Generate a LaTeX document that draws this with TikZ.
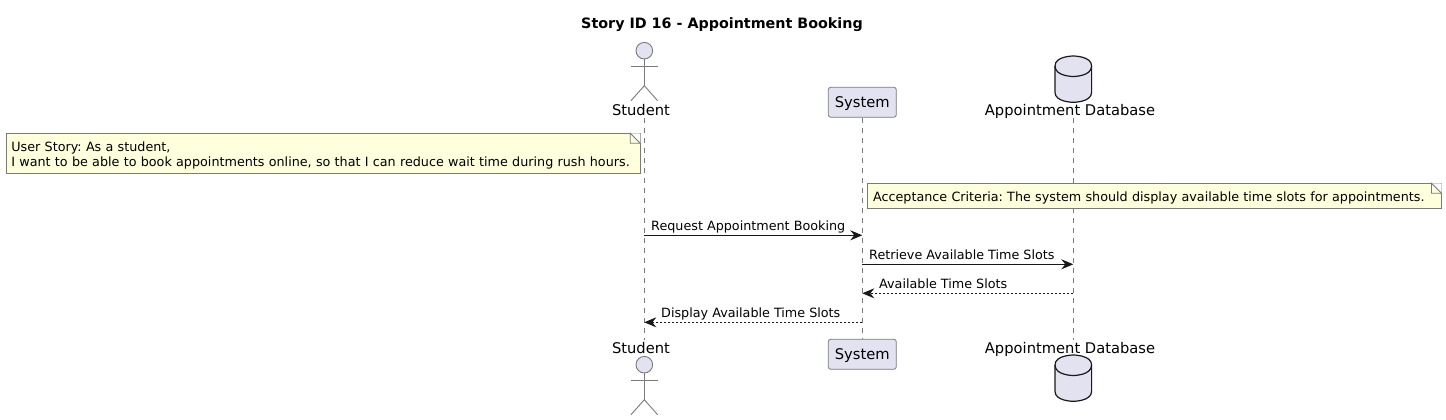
\documentclass[tikz,border=0pt]{standalone}
\usepackage{fontspec}
\setmainfont{DejaVu Sans}
\usetikzlibrary{arrows.meta, calc}
\frenchspacing

\definecolor{partfill}{HTML}{E2E2F0}
\definecolor{notefill}{HTML}{FEFFDD}
\definecolor{edgegray}{HTML}{7A7A7A}
\definecolor{inkdark}{HTML}{181818}

% stick figure, head centre at #1,#2
\newcommand{\stickfig}[2]{
    \draw[actorline, fill=partfill] (#1,#2) circle (8.3pt);
    \draw[actorline] (#1,#2+8.3) -- (#1,#2+35);
    \draw[actorline] (#1-13.3,#2+15.3) -- (#1+13.3,#2+15.3);
    \draw[actorline] (#1-13.3,#2+50) -- (#1,#2+35) -- (#1+13.3,#2+50);
}
% cylinder, top centre at #1,#2
\newcommand{\dbfig}[2]{
    \draw[dbline, fill=partfill] (#1-18.3,#2+10) .. controls (#1-18.3,#2) and (#1,#2) .. (#1,#2)
        .. controls (#1,#2) and (#1+18.3,#2) .. (#1+18.3,#2+10) -- (#1+18.3,#2+36.3)
        .. controls (#1+18.3,#2+46.3) and (#1,#2+46.3) .. (#1,#2+46.3)
        .. controls (#1,#2+46.3) and (#1-18.3,#2+46.3) .. (#1-18.3,#2+36.3) -- cycle;
    \draw[dbline] (#1-18.3,#2+10) .. controls (#1-18.3,#2+20.5) and (#1,#2+20.5) .. (#1,#2+20.5)
        .. controls (#1,#2+20.5) and (#1+18.3,#2+20.5) .. (#1+18.3,#2+10);
}
% folded corner of a note
\newcommand{\notefold}[1]{
    \fill[white] ($(#1.north east)+(-10,0)$) -- (#1.north east) -- ($(#1.north east)+(0,10)$) -- cycle;
    \draw[edgegray, line width=0.8pt] ($(#1.north east)+(-10,0)$) -- ($(#1.north east)+(0,10)$)
        -- ($(#1.north east)+(-10,10)$) -- cycle;
}

\begin{document}
\begin{tikzpicture}[
    x=1pt, y=-1pt,
    every node/.style={font=\fontsize{12.75}{15}\selectfont, text=black},
    actorline/.style={edgegray, line width=0.9pt},
    dbline/.style={inkdark, line width=1.2pt},
    partlabel/.style={anchor=base, inner sep=0pt, font=\fontsize{14.7}{17}\selectfont},
    partbox/.style={draw=edgegray, fill=partfill, rounded corners=2.5pt, line width=0.8pt, minimum width=68pt, minimum height=30pt, inner sep=0pt, font=\fontsize{14.7}{17}\selectfont, text height=13pt, text depth=3pt},
    lifeline/.style={edgegray, line width=0.8pt, dash pattern=on 5pt off 5pt},
    notebox/.style={draw=edgegray, fill=notefill, line width=0.8pt, anchor=north west, inner xsep=5.5pt, inner ysep=0pt, align=left},
    msglabel/.style={anchor=base west, inner sep=0pt},
    arrow/.style={-{Stealth[length=12pt, width=10pt, inset=4pt]}, inkdark, line width=1pt},
    backarrow/.style={arrow, dash pattern=on 2pt off 2pt}
]
    \useasboundingbox (0,0) rectangle (1446,420);

    \node[inner sep=0pt, font=\fontsize{14.3}{16}\selectfont\bfseries] (title) at (722,24.3) {Story ID 16 - Appointment Booking};

    % top row
    \stickfig{644.3}{50.7}
    \node[partlabel] (student_top) at (641,115) {Student};
    \node[partbox] (system_top) at (862.3,102.3) {System};
    \dbfig{1073.3}{56}
    \node[partlabel] (db_top) at (1070,115) {Appointment Database};

    % bottom row
    \node[partlabel] (student_bot) at (641,353) {Student};
    \stickfig{644.3}{364.7}
    \node[partbox] (system_bot) at (862.3,354.3) {System};
    \node[partlabel] (db_bot) at (1070,353) {Appointment Database};
    \dbfig{1073.3}{355}

    % lifelines
    \coordinate (student_a) at (644.3,118);
    \coordinate (student_b) at (644.3,340);
    \coordinate (db_a) at (1073.3,118);
    \coordinate (db_b) at (1073.3,340);
    \draw[lifeline] (student_a) -- (student_b);
    \draw[lifeline] (system_top) -- (system_bot);
    \draw[lifeline] (db_a) -- (db_b);

    % notes
    \node[notebox, text width=623pt, minimum height=40pt] (story_note) at (5.5,133.3)
        {\rule{0pt}{13.5pt}User Story: As a student,\\I want to be able to book appointments online, so that I can reduce wait time during rush hours.};
    \notefold{story_note}
    \node[notebox, text width=562.5pt, minimum height=25pt, text height=12pt, text depth=2pt] (criteria_note) at (867.2,183.3)
        {Acceptance Criteria: The system should display available time slots for appointments.};
    \notefold{criteria_note}

    % messages
    \coordinate (req_from) at (644.3,235.3);
    \coordinate (req_to) at (862.3,235.3);
    \coordinate (ret_from) at (862.3,264.3);
    \coordinate (ret_to) at (1073.3,264.3);
    \coordinate (slots_from) at (1073.3,293.3);
    \coordinate (slots_to) at (862.3,293.3);
    \coordinate (show_from) at (862.3,322.3);
    \coordinate (show_to) at (644.3,322.3);

    \draw[arrow] (req_from) -- (req_to);
    \draw[arrow] (ret_from) -- (ret_to);
    \draw[backarrow] (slots_from) -- (slots_to);
    \draw[backarrow] (show_from) -- (show_to);

    \node[msglabel] (req_label) at (651,230) {Request Appointment Booking};
    \node[msglabel] (ret_label) at (869,259) {Retrieve Available Time Slots};
    \node[msglabel] (slots_label) at (879,288) {Available Time Slots};
    \node[msglabel] (show_label) at (661,317) {Display Available Time Slots};
\end{tikzpicture}
\end{document}
